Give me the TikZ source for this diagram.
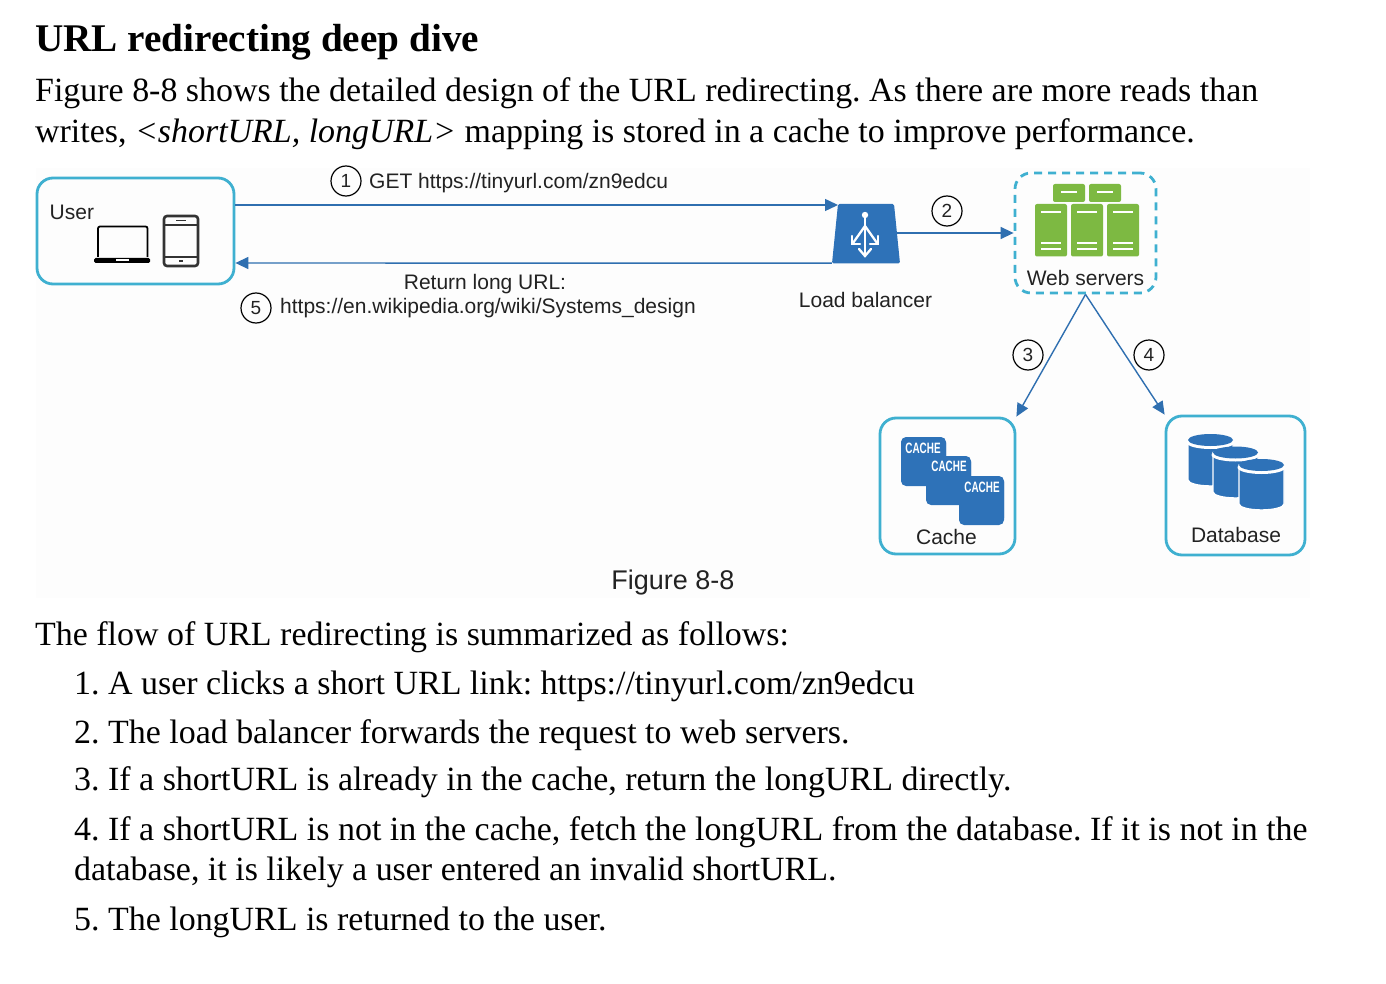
\documentclass[tikz,border=0pt]{standalone}
\usepackage{fontspec}
\setmainfont{Liberation Serif}
\newfontfamily\diagfont{Liberation Sans}
\usetikzlibrary{arrows.meta}
\frenchspacing
\definecolor{boxcyan}{HTML}{3FB0D0}
\definecolor{flowblue}{HTML}{2F6FB0}
\definecolor{iconblue}{HTML}{2E72B8}
\definecolor{icondark}{HTML}{1F4E80}
\definecolor{srvgreen}{HTML}{7DB942}
\definecolor{inkgrey}{HTML}{222222}
\tikzset{
  body/.style={anchor=base west,inner sep=0pt,font=\fontsize{33.93}{40}\selectfont},
  heading/.style={anchor=base west,inner sep=0pt,font=\fontsize{39.2}{42}\selectfont\bfseries},
  lab/.style={inner sep=0pt,text=inkgrey,font=\diagfont\fontsize{21}{25}\selectfont},
  nodebox/.style={draw=boxcyan,line width=2.8pt,rounded corners=16pt,inner sep=0pt,minimum width=#1},
  dashbox/.style={draw=boxcyan,line width=2.8pt,rounded corners=16pt,dash pattern=on 8pt off 6pt,inner sep=0pt},
  flow/.style={draw=flowblue,line width=1.4pt,-{Stealth[length=13pt,width=12pt,inset=0pt]}},
  numcirc/.style={circle,draw=black,line width=1.2pt,minimum size=30pt,inner sep=0pt,text=inkgrey,font=\diagfont\fontsize{19}{22}\selectfont},
  srvline/.style={draw=white,line width=1.4pt},
  cachebox/.style={fill=iconblue,rounded corners=5pt},
  cachetxt/.style={text=white,inner sep=0pt,font=\diagfont\bfseries\fontsize{15}{16}\selectfont,xscale=.66},
}
\begin{document}
\begin{tikzpicture}[x=1pt,y=-1pt]
\useasboundingbox (0,0) rectangle (1386,984);
\fill[white] (0,0) rectangle (1386,984);
\fill[black!0.8] (36,168) rectangle (1310,598);
% page text
\node[heading] (title) at (35,51.5) {URL redirecting deep dive};
\node[body] (p1) at (35,102) {Figure 8-8 shows the detailed design of the URL redirecting. As there are more reads than};
\node[body] (p2) at (35,143) {writes, \textit{<shortURL, longURL>} mapping is stored in a cache to improve performance.};
\node[body] (f0) at (35,645) {The flow of URL redirecting is summarized as follows:};
\node[body] (f1) at (74,694) {1. A user clicks a short URL link: https://tinyurl.com/zn9edcu};
\node[body] (f2) at (74,743) {2. The load balancer forwards the request to web servers.};
\node[body] (f3) at (74,790) {3. If a shortURL is already in the cache, return the longURL directly.};
\node[body] (f4) at (74,840) {4. If a shortURL is not in the cache, fetch the longURL from the database. If it is not in the};
\node[body] (f4b) at (74,880) {database, it is likely a user entered an invalid shortURL.};
\node[body] (f5) at (74,930) {5. The longURL is returned to the user.};
% boxes
\node[nodebox=197pt,minimum height=106pt] (user) at (135.5,231) {};
\node[dashbox,minimum width=141pt,minimum height=120pt] (web) at (1085.5,233) {};
\node[nodebox=135pt,minimum height=136pt] (cache) at (947.5,486) {};
\node[nodebox=139pt,minimum height=139pt] (db) at (1235.5,485.5) {};
% load balancer
\node[minimum width=68pt,minimum height=60pt,inner sep=0pt] (lb) at (866,233) {};
\coordinate (lbin) at (838,205);
\fill[iconblue,rounded corners=1.5pt] (838,204) -- (894,204) -- (900,263.5) -- (832,263.5) -- cycle;
\begin{scope}[draw=white,line width=2.3pt,line cap=round]
\fill[white] (865,215) circle (3.2pt);
\draw (865,218) -- (865,254);
\draw (865,226) -- (853,243);
\draw (865,226) -- (877,243);
\draw (859,249) -- (865,256) -- (871,249);
\draw (852,236) -- (852,244) -- (860,244);
\draw (878,236) -- (878,244) -- (870,244);
\end{scope}
% laptop
\draw[black,line width=1.8pt,rounded corners=2pt] (98,257) -- (98,226.5) -- (147.5,226.5) -- (147.5,257);
\fill[black,rounded corners=1.5pt] (94,258) rectangle (150,263);
\fill[white] (116,259.5) rectangle (129,261.5);
% phone
\draw[black!80,line width=2.6pt,rounded corners=3pt] (164,216) rectangle (198,266);
\draw[black!80,line width=1.8pt] (164,225) -- (198,225) (164,257) -- (198,257);
\draw[black!80,line width=1.4pt] (176,220.5) -- (186,220.5);
\fill[black!80] (179,260.5) rectangle (183,262);
% servers
\foreach \x in {1053,1089}{
  \fill[srvgreen,rounded corners=2pt] (\x,184) rectangle ++(32,18);
  \draw[srvline] (\x+8,192) -- ++(16,0);
}
\foreach \x in {1035,1071,1107}{
  \fill[srvgreen,rounded corners=2pt] (\x,204) rectangle ++(32,52.5);
  \draw[srvline] (\x+6,212) -- ++(20,0);
  \draw[srvline] (\x+6,243) -- ++(20,0);
  \draw[srvline] (\x+6,249) -- ++(20,0);
}
% cache icons
\foreach \x/\y in {901/437,926/456,959/476}{
  \fill[icondark,cachebox] (\x,\y+1) rectangle ++(45,48);
  \fill[cachebox] (\x,\y) rectangle ++(45,47);
}
\node[cachetxt] (c1) at (923,448) {CACHE};
\node[cachetxt] (c2) at (949,466.5) {CACHE};
\node[cachetxt] (c3) at (982,487) {CACHE};
% database icons
\foreach \x/\y/\b in {1188/440/486,1213/452.5/498,1239/465/510}{
  \filldraw[fill=iconblue,draw=white,line width=1.4pt] (\x,\y) -- (\x+45,\y) -- (\x+45,\b-6)
     arc[start angle=0,end angle=180,x radius=22.5pt,y radius=-6pt] -- cycle;
  \fill[white] (\x+22.5,\y+2.5) ellipse[x radius=24pt,y radius=6.5pt];
  \fill[iconblue] (\x+22.5,\y) ellipse[x radius=22.5pt,y radius=6pt];
}
% labels
\node[lab,anchor=base west] (luser) at (49.5,220) {User};
\node[lab,anchor=base west] (lget) at (369,188.5) {GET https://tinyurl.com/zn9edcu};
\node[lab] (lret) at (485,284.5) {Return long URL:};
\node[lab,anchor=base west] (lurl) at (280,313) {https://en.wikipedia.org/wiki/Systems\_design};
\node[lab] (llb) at (865.5,300) {Load balancer};
\node[lab] (lweb) at (1085.5,277.5) {Web servers};
\node[lab] (lcache) at (946.5,536.5) {Cache};
\node[lab] (ldb) at (1236,535) {Database};
\node[text=inkgrey,inner sep=0pt,font=\diagfont\fontsize{27}{30}\selectfont] (lfig) at (673,583) {Figure 8-8};
% number circles
\node[numcirc] (n1) at (346,181) {1};
\node[numcirc] (n2) at (947,211) {2};
\node[numcirc] (n3) at (1028,355) {3};
\node[numcirc] (n4) at (1149,355) {4};
\node[numcirc] (n5) at (256,308) {5};
% connectors
\draw[flow] ([yshift=26pt]user.east) -- (lbin);
\draw[flow] (lb.south west) -- ([yshift=-32pt]user.east);
\draw[flow] ([xshift=-3pt]lb.east) -- (web.west);
\draw[flow] (web.south) -- (cache.north east);
\draw[flow] (web.south) -- (db.north west);
\end{tikzpicture}
\end{document}
